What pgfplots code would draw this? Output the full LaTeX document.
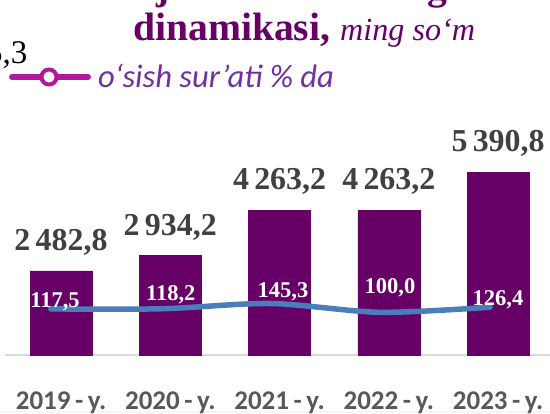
\documentclass[border=0pt]{standalone}
\usepackage{pgfplots}
\pgfplotsset{compat=1.18}
\usepackage{fontspec}
\setmainfont{Liberation Serif}
\newfontfamily\carlito{Carlito}
\definecolor{barpurple}{HTML}{660066}
\definecolor{linblue}{HTML}{4A7EBB}
\definecolor{legmag}{HTML}{B2189E}
\definecolor{legtext}{HTML}{7030A0}
\definecolor{lblgray}{HTML}{404040}
\definecolor{tickgray}{HTML}{595959}
\definecolor{axgray}{HTML}{D9D9D9}
\definecolor{pinkbg}{HTML}{FCF0FC}
\begin{document}
\begin{tikzpicture}[x=1bp,y=1bp]
\useasboundingbox (0,0) rectangle (550,413);
\clip (0,0) rectangle (550,413);
\fill[pinkbg] (0,0) rectangle (550,2.5);
\begin{axis}[
  at={(5bp,58bp)}, anchor=south west,
  scale only axis, width=555bp, height=203.4bp,
  xmin=-0.5126, xmax=4.567, ymin=0, ymax=6000,
  axis x line*=bottom, axis y line=none, ytick=\empty,
  x axis line style={axgray, line width=2bp, -},
  xtick={0,...,4},
  xticklabels={2019\,-\,y., 2020\,-\,y., 2021\,-\,y., 2022\,-\,y., 2023\,-\,y.},
  major tick length=0pt,
  xticklabel style={anchor=north, yshift=-37bp, inner sep=0pt, text=tickgray,
    font=\carlito\bfseries\fontsize{27bp}{28bp}\selectfont},
  ybar, bar width=62bp,
  clip=false,
  nodes near coords={\pgfmathprintnumber[fixed, fixed zerofill, precision=1, use comma, 1000 sep={\,}, assume math mode=true]{\pgfplotspointmeta}},
  nodes near coords style={anchor=base, yshift=20.5bp, inner sep=0pt, text=lblgray,
    font=\bfseries\fontsize{31.9bp}{32bp}\selectfont},
]
\addplot[fill=barpurple, draw=barpurple] coordinates {(0,2482.8) (1,2934.2) (2,4263.2) (3,4263.2) (4,5390.8)};
\end{axis}
\begin{axis}[
  at={(5bp,58bp)}, anchor=south west,
  scale only axis, width=555bp, height=203.4bp,
  xmin=-0.5126, xmax=4.567, ymin=-120, ymax=928,
  axis lines=none, clip=false,
]
\addplot[linblue, line width=5.5bp, smooth, line cap=round, no marks] coordinates {(-0.094,117.5) (0.922,118.2) (1.922,145.3) (2.92,100.0) (3.927,126.4)};
\begin{scope}[every node/.style={anchor=base, inner sep=0pt, text=white, font=\bfseries\fontsize{22.5bp}{23bp}\selectfont}]
\node at (axis cs:-0.055,127.3) {117,5};
\node at (axis cs:1.004,163.4) {118,2};
\node at (axis cs:2.032,178.8) {145,3};
\node at (axis cs:3.011,197.9) {100,0};
\node at (axis cs:4.0,137.6) {126,4};
\end{scope}
\end{axis}
\node[anchor=base, inner sep=0pt, text=barpurple, font=\bfseries\fontsize{39.6bp}{40bp}\selectfont] at (163,413.5) {j};
\node[anchor=base, inner sep=0pt, text=barpurple, font=\bfseries\fontsize{39.6bp}{40bp}\selectfont] at (437,413.5) {g};
\node[anchor=base west, inner sep=0pt, text=barpurple] at (133,373)
  {\fontsize{39.6bp}{40bp}\selectfont{\bfseries dinamikasi,} {\itshape\fontsize{32.2bp}{33bp}\selectfont ming so‘m}};
\node[anchor=base east, inner sep=0pt, font=\fontsize{33bp}{34bp}\selectfont] at (27.5,350) {5,3};
\draw[legmag, line width=6bp, line cap=round] (12,336) -- (88,336);
\draw[legmag, line width=4bp, fill=white] (49,336) circle (7.5);
\node[anchor=base west, inner sep=0pt, text=legtext, font=\carlito\itshape\fontsize{32.6bp}{33bp}\selectfont] at (98,325.7) {o‘sish sur’ati \% da};
\end{tikzpicture}
\end{document}
